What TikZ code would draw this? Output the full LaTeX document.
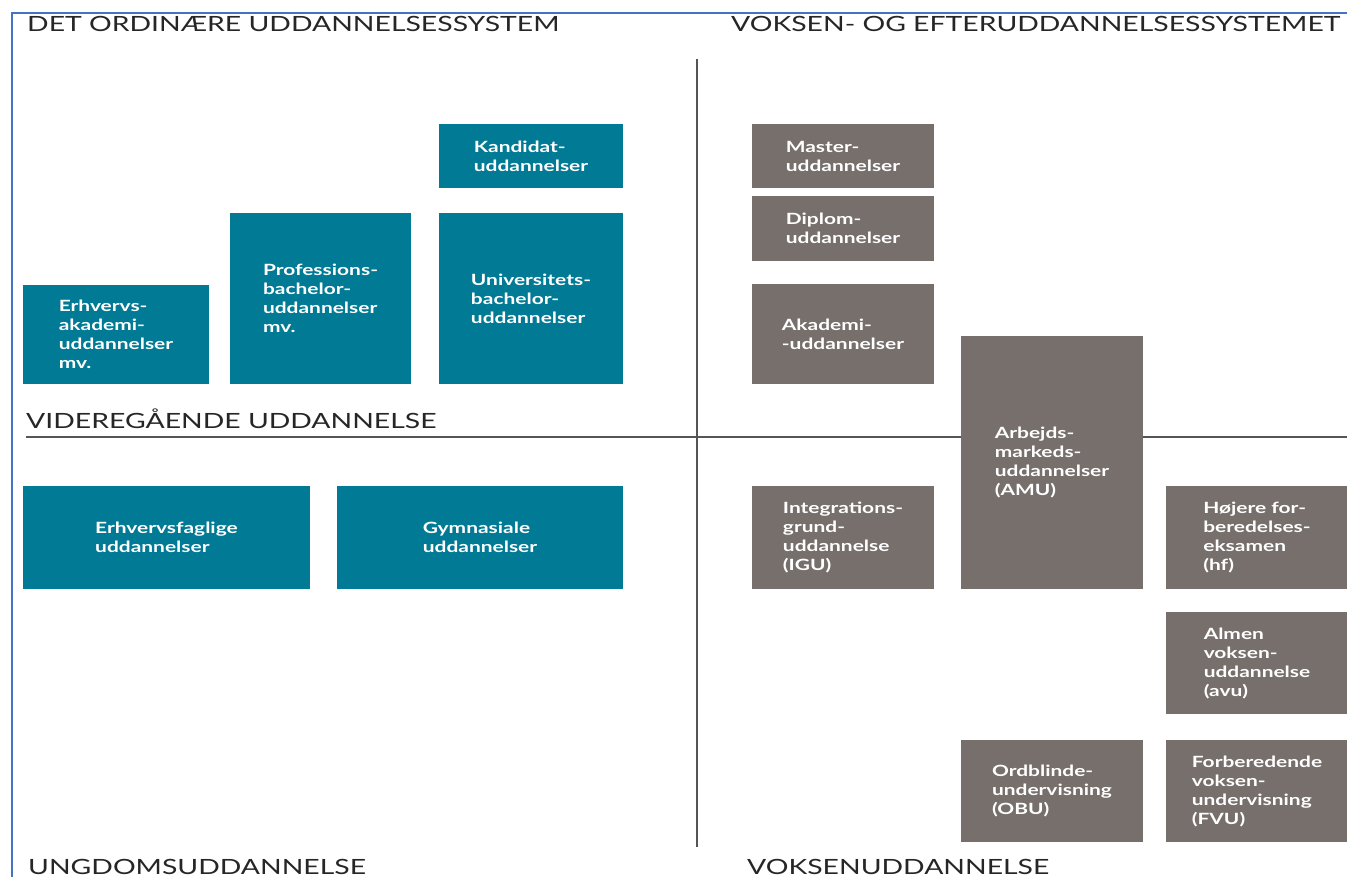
\documentclass[tikz,border=0pt]{standalone}
\usepackage{fontspec}
\setmainfont{Lato}[FakeStretch=1.35]
\definecolor{tealbox}{RGB}{0,122,149}
\definecolor{greybox}{RGB}{118,111,108}
\definecolor{frameblue}{RGB}{68,114,196}
\definecolor{divider}{RGB}{85,85,85}
\begin{document}
\begin{tikzpicture}[x=1pt,y=-1pt,
  box/.style={anchor=north west, inner sep=0pt, outer sep=0pt, align=left,
    text=white, font=\fontsize{15.5}{19}\selectfont\bfseries},
  tbox/.style={box, fill=tealbox},
  gbox/.style={box, fill=greybox},
  heading/.style={anchor=base west, inner sep=0pt, font=\fontsize{21}{24}\selectfont, text=black!85},
  divline/.style={draw=divider, line width=1.8pt},
  frameline/.style={draw=frameblue, line width=1.8pt}]
\useasboundingbox (0,0) rectangle (1347,877);
\fill[white] (0,0) rectangle (1347,877);
% frame
\coordinate (fTL) at (12,13);
\coordinate (fTR) at (1347,13);
\coordinate (fBL) at (12,877);
\draw[frameline] (fBL) -- (fTL) -- (fTR);
% dividers
\coordinate (vT) at (697,59);
\coordinate (vB) at (697,847);
\coordinate (hL) at (26,437);
\coordinate (hR) at (1347,437);
\draw[divline] (vT) -- (vB);
\draw[divline] (hL) -- (hR);
% headings
\node[heading] (h1) at (27,32) {DET ORDINÆRE UDDANNELSESSYSTEM};
\node[heading] (h2) at (731,32) {VOKSEN- OG EFTERUDDANNELSESSYSTEMET};
\node[heading] (h3) at (26,428) {VIDEREGÅENDE UDDANNELSE};
\node[heading] (h4) at (28,874) {UNGDOMSUDDANNELSE};
\node[heading] (h5) at (747,874) {VOKSENUDDANNELSE};
% teal boxes
\node[tbox, minimum width=184pt, minimum height=64pt] (kand) at (439,124) {Kandidat-\\uddannelser};
\node[tbox, minimum width=181pt, minimum height=171pt] (prof) at (230,213) {Professions-\\bachelor-\\uddannelser\\mv.};
\node[tbox, minimum width=184pt, minimum height=171pt] (univ) at (439,213) {Universitets-\\bachelor-\\uddannelser};
\node[tbox, minimum width=186pt, minimum height=99pt] (erhv) at (23,285) {Erhvervs-\\akademi-\\uddannelser\\mv.};
\node[tbox, minimum width=287pt, minimum height=103pt] (erhfag) at (23,486) {Erhvervsfaglige\\uddannelser};
\node[tbox, minimum width=286pt, minimum height=103pt] (gym) at (337,486) {Gymnasiale\\uddannelser};
% grey boxes
\node[gbox, minimum width=182pt, minimum height=64pt] (master) at (752,124) {Master-\\uddannelser};
\node[gbox, minimum width=182pt, minimum height=65pt] (diplom) at (752,196) {Diplom-\\uddannelser};
\node[gbox, minimum width=182pt, minimum height=100pt] (akad) at (752,284) {Akademi-\\-uddannelser};
\node[gbox, minimum width=182pt, minimum height=253pt] (amu) at (961,336) {Arbejds-\\markeds-\\uddannelser\\(AMU)};
\node[gbox, minimum width=182pt, minimum height=103pt] (igu) at (752,486) {Integrations-\\grund-\\uddannelse\\(IGU)};
\node[gbox, minimum width=182pt, minimum height=103pt] (hf) at (1166,486) {Højere for-\\beredelses-\\eksamen\\(hf)};
\node[gbox, minimum width=182pt, minimum height=102pt] (avu) at (1166,612) {Almen\\voksen-\\uddannelse\\(avu)};
\node[gbox, minimum width=182pt, minimum height=102pt] (obu) at (961,740) {Ordblinde-\\undervisning\\(OBU)};
\node[gbox, minimum width=182pt, minimum height=102pt] (fvu) at (1166,740) {Forberedende\\voksen-\\undervisning\\(FVU)};
\end{tikzpicture}
\end{document}
